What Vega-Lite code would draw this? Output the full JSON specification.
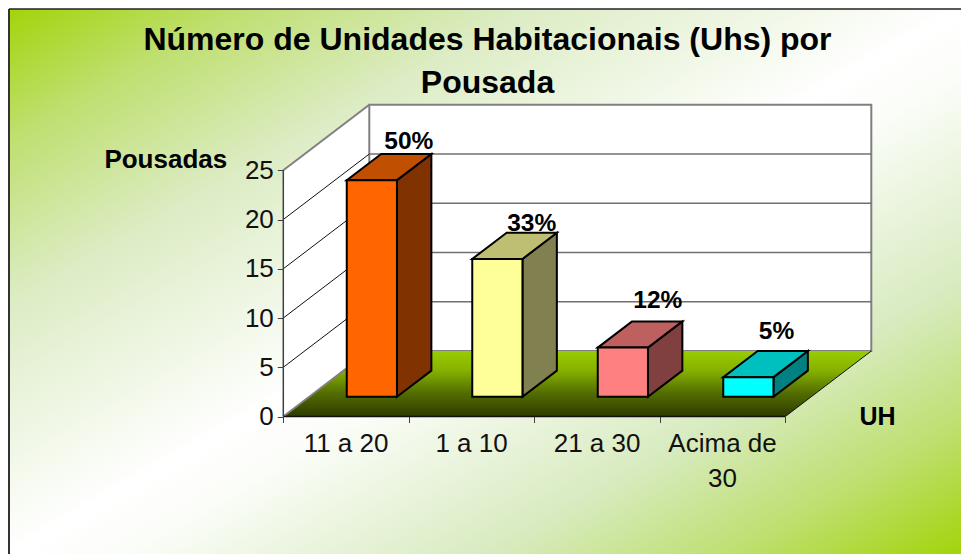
{
"$schema":"https://vega.github.io/schema/vega-lite/v6.json",
"width":952,"height":545,
"autosize":{"type":"none"},
"padding":{"left":9,"top":9,"right":0,"bottom":0},
"background":"white",
"view":{"stroke":null},
"title":{"text":["Número de Unidades Habitacionais (Uhs) por","Pousada"],"font":"Liberation Sans","fontSize":32,"fontWeight":"bold","color":"black","anchor":"middle","frame":"group","baseline":"alphabetic","offset":-116.5,"lineHeight":43,"dx":2.5},
"datasets":{
"barras":[
{"categoria":"11 a 20","pousadas":22,"percentual":"50%","ordem":0},
{"categoria":"1 a 10","pousadas":14,"percentual":"33%","ordem":1},
{"categoria":"21 a 30","pousadas":5,"percentual":"12%","ordem":2},
{"categoria":"Acima de 30","pousadas":2,"percentual":"5%","ordem":3}
],
"escala":[{"marca":0},{"marca":5},{"marca":10},{"marca":15},{"marca":20},{"marca":25}],
"profundidade":[{"p":0},{"p":1}]
},
"data":{"values":[{"chart":"Pousadas"}]},
"resolve":{"scale":{"color":"independent"},"axis":{"x":"independent","y":"independent"}},
"layer":[
{"mark":{"type":"rect","fill":{"gradient":"linear","x1":0,"y1":0,"x2":1,"y2":1,"stops":[{"offset":0,"color":"#a2d40a"},{"offset":0.12,"color":"#bfdf70"},{"offset":0.27,"color":"#dcecc4"},{"offset":0.5,"color":"#ffffff"},{"offset":0.56,"color":"#fbfdf8"},{"offset":0.75,"color":"#d8ebc0"},{"offset":0.88,"color":"#bfdf70"},{"offset":1,"color":"#a2d40a"}]}},"encoding":{}},
{"mark":{"type":"rule","stroke":"#333333","strokeWidth":2},"encoding":{"x":{"datum":-2.1857,"type":"quantitative","scale":{"domain":[-2.1857,5.4],"nice":false,"zero":false},"axis":null}}},
{"mark":{"type":"rule","stroke":"#222222","strokeWidth":1.5},"encoding":{"y":{"datum":41.371,"type":"quantitative","scale":{"domain":[-13.959,41.371],"nice":false,"zero":false},"axis":null}}},
{"data":{"name":"profundidade"},"transform":[{"calculate":"datum.p*0.6853","as":"x"},{"calculate":"25+datum.p*6.65","as":"y"},{"calculate":"datum.p*6.65","as":"y2"}],
"mark":{"type":"area","fill":"white","orient":"vertical"},
"encoding":{"x":{"field":"x","type":"quantitative","axis":null},"y":{"field":"y","type":"quantitative","axis":null},"y2":{"field":"y2"}}},
{"mark":{"type":"rect","fill":"white","stroke":"#808080","strokeWidth":2},
"encoding":{"x":{"datum":0.6853,"type":"quantitative","axis":null},"x2":{"datum":4.6853},"y":{"datum":31.65,"type":"quantitative","axis":null},"y2":{"datum":6.65}}},
{"data":{"name":"escala"},"transform":[{"filter":"datum.marca>0 && datum.marca<25"},{"calculate":"datum.marca+6.65","as":"fundo"}],
"mark":{"type":"rule","stroke":"#707070","strokeWidth":1.5},
"encoding":{"x":{"datum":0.6853,"type":"quantitative","axis":null},"x2":{"datum":4.6853},"y":{"field":"fundo","type":"quantitative","axis":null}}},
{"data":{"name":"profundidade"},"transform":[{"calculate":"datum.p*0.6853","as":"x"},{"calculate":"4+datum.p*0.6853","as":"x2"},{"calculate":"datum.p*6.65","as":"y"}],
"mark":{"type":"area","orient":"horizontal","fill":{"gradient":"linear","x1":0,"y1":0,"x2":0,"y2":1,"stops":[{"offset":0,"color":"#99cc00"},{"offset":0.3,"color":"#86b000"},{"offset":0.65,"color":"#526c00"},{"offset":1,"color":"#2e3b00"}]}},
"encoding":{"y":{"field":"y","type":"quantitative","axis":null},"x":{"field":"x","type":"quantitative","axis":null},"x2":{"field":"x2"}}},
{"data":{"name":"escala"},"transform":[{"filter":"datum.marca==0 || datum.marca==25"},{"calculate":"datum.marca+6.65","as":"fundo"}],
"mark":{"type":"rule","stroke":"#808080","strokeWidth":2},
"encoding":{"x":{"datum":0,"type":"quantitative","axis":null},"x2":{"datum":0.6853},"y":{"field":"marca","type":"quantitative","axis":{"orient":"left","zindex":1,"offset":-274.3,"values":[0,5,10,15,20,25],"domain":false,"grid":false,"tickColor":"#404040","tickSize":6,"tickWidth":1,"labelFont":"Liberation Sans","labelFontSize":26,"labelColor":"#111111","labelPadding":4,"title":"Pousadas","titleFont":"Liberation Sans","titleFontSize":26,"titleFontWeight":"bold","titleColor":"black","titleAngle":0,"titleX":-118,"titleY":150,"titleAlign":"center","titleBaseline":"middle"}},"y2":{"field":"fundo"}}},
{"data":{"name":"escala"},"transform":[{"filter":"datum.marca>0 && datum.marca<25"},{"calculate":"datum.marca+6.65","as":"fundo"}],
"mark":{"type":"rule","stroke":"#111111","strokeWidth":1},
"encoding":{"x":{"datum":0,"type":"quantitative","axis":null},"x2":{"datum":0.6853},"y":{"field":"marca","type":"quantitative","axis":null},"y2":{"field":"fundo"}}},
{"mark":{"type":"rule","stroke":"#111111","strokeWidth":1},
"encoding":{"x":{"datum":4,"type":"quantitative","axis":null},"x2":{"datum":4.6853},"y":{"datum":0,"type":"quantitative","axis":null},"y2":{"datum":6.65}}},
{"mark":{"type":"rule","stroke":"#111111","strokeWidth":1.5},
"encoding":{"x":{"datum":0,"type":"quantitative","axis":null},"x2":{"datum":4},"y":{"datum":0,"type":"quantitative","axis":null}}},
{"mark":{"type":"rule","stroke":"#404040","strokeWidth":1.5},
"encoding":{"x":{"datum":0,"type":"quantitative","axis":null},"y":{"datum":0,"type":"quantitative","axis":null},"y2":{"datum":25}}},
{"data":{"name":"barras"},"transform":[{"calculate":"[0.3,0.7]","as":"t"},{"flatten":["t"]},{"calculate":"datum.ordem+0.7+0.6853*datum.t","as":"x"},{"calculate":"datum.pousadas+6.65*datum.t","as":"y"},{"calculate":"6.65*datum.t","as":"y2"}],
"mark":{"type":"area","orient":"vertical","stroke":"black","strokeWidth":2,"fillOpacity":1},
"encoding":{"x":{"field":"x","type":"quantitative","axis":null},"y":{"field":"y","type":"quantitative","axis":null},"y2":{"field":"y2"},
"color":{"field":"categoria","type":"nominal","legend":null,"scale":{"domain":["11 a 20","1 a 10","21 a 30","Acima de 30"],"range":["#803300","#808050","#804040","#008080"]}}}},
{"data":{"name":"barras"},"transform":[{"calculate":"[0.3,0.7]","as":"t"},{"flatten":["t"]},{"calculate":"datum.ordem+0.3+0.6853*datum.t","as":"x"},{"calculate":"datum.ordem+0.7+0.6853*datum.t","as":"x2"},{"calculate":"datum.pousadas+6.65*datum.t","as":"y"}],
"mark":{"type":"area","orient":"horizontal","stroke":"black","strokeWidth":2,"fillOpacity":1},
"encoding":{"y":{"field":"y","type":"quantitative","axis":null},"x":{"field":"x","type":"quantitative","axis":null},"x2":{"field":"x2"},
"color":{"field":"categoria","type":"nominal","legend":null,"scale":{"domain":["11 a 20","1 a 10","21 a 30","Acima de 30"],"range":["#C05000","#BFBF73","#BF6060","#00BFBF"]}}}},
{"data":{"name":"barras"},"transform":[{"calculate":"datum.ordem+0.3+0.2056","as":"x"},{"calculate":"datum.ordem+0.7+0.2056","as":"x2"},{"calculate":"datum.pousadas+1.995","as":"y"},{"calculate":"1.995","as":"y2"}],
"mark":{"type":"rect","stroke":"black","strokeWidth":2,"fillOpacity":1},
"encoding":{"x":{"field":"x","type":"quantitative","axis":null},"x2":{"field":"x2"},"y":{"field":"y","type":"quantitative","axis":null},"y2":{"field":"y2"},
"color":{"field":"categoria","type":"nominal","legend":null,"scale":{"domain":["11 a 20","1 a 10","21 a 30","Acima de 30"],"range":["#FF6600","#FFFF99","#FF8080","#00FFFF"]}}}},
{"data":{"name":"barras"},"transform":[{"calculate":"datum.ordem+0.5+0.6853*0.7+[0.02,0,0.005,-0.05][datum.ordem]","as":"x"},{"calculate":"datum.pousadas+6.65*0.7+[0.5,0.13,1.4,1.2][datum.ordem]","as":"y"}],
"mark":{"type":"text","font":"Liberation Sans","fontSize":24.5,"fontWeight":"bold","color":"black","baseline":"alphabetic","align":"center"},
"encoding":{"x":{"field":"x","type":"quantitative","axis":null},"y":{"field":"y","type":"quantitative","axis":null},"text":{"field":"percentual"}}},
{"data":{"name":"barras"},"transform":[{"calculate":"datum.ordem+0.5","as":"x"},{"calculate":"replace(datum.categoria,'de ','de\\n')","as":"rotulo"}],
"mark":{"type":"text","font":"Liberation Sans","fontSize":26,"color":"#111111","baseline":"alphabetic","align":"center","lineBreak":"\n","lineHeight":35,"dy":35.5},
"encoding":{"x":{"field":"x","type":"quantitative","axis":{"orient":"bottom","zindex":1,"offset":-137.5,"values":[0,1,2,3,4],"domain":false,"grid":false,"labels":false,"tickColor":"#404040","tickSize":6,"tickWidth":1,"title":"UH","titleFont":"Liberation Sans","titleFontSize":25,"titleFontWeight":"bold","titleColor":"black","titleX":868,"titleY":0,"titleAlign":"center","titleBaseline":"middle"}},"y":{"datum":0,"type":"quantitative","axis":null},"text":{"field":"rotulo"}}}
]
}
